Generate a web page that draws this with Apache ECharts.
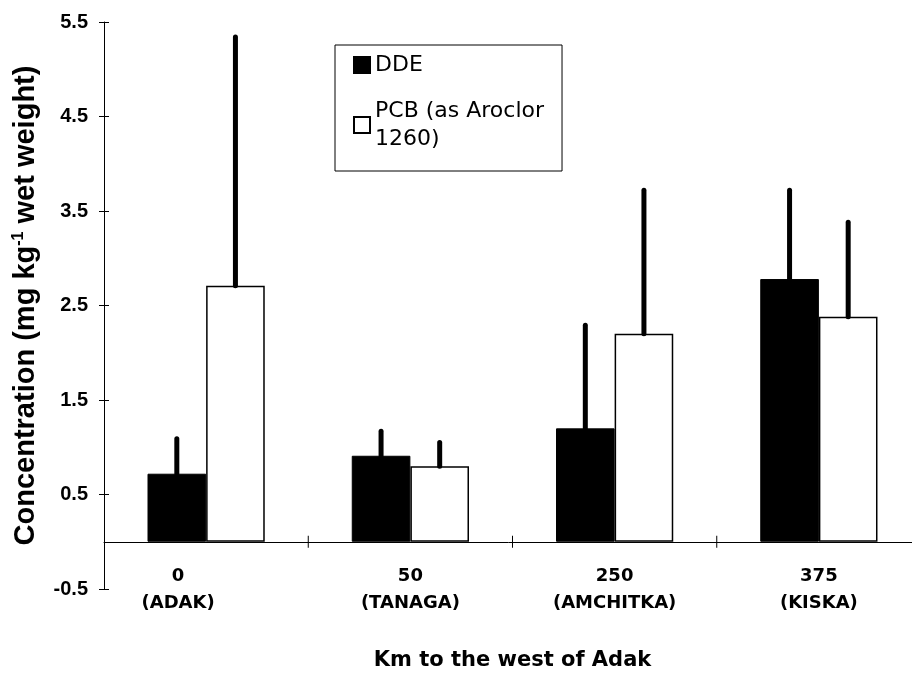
<!DOCTYPE html>
<html>
<head>
<meta charset="utf-8">
<script src="https://cdn.jsdelivr.net/npm/echarts@6/dist/echarts.min.js"></script>
<style>
  html, body { margin: 0; padding: 0; background: #fff; }
  #chart { width: 912px; height: 677px; }
</style>
</head>
<body>
<div id="chart"></div>
<script>
// sites, km west of Adak
var sites = ['0\n(ADAK)', '50\n(TANAGA)', '250\n(AMCHITKA)', '375\n(KISKA)'];
// mean concentrations (mg/kg wet weight)
var ddeMean = [0.72, 0.91, 1.20, 2.78];
var pcbMean = [2.71, 0.80, 2.20, 2.38];
// top of the error bars
var ddeUpper = [1.09, 1.17, 2.29, 3.72];
var pcbUpper = [5.34, 1.05, 3.72, 3.38];

var barPct = 0.287;
var chart = echarts.init(document.getElementById('chart'));

// category entries, first label sits a bit left in the original figure
var catData = sites.map(function (s, i) {
    return i === 0 ? { value: s, textStyle: { padding: [0, 56, 0, 0] } } : s;
});

function errData(mean, upper) {
    return mean.map(function (m, i) { return [i, m, upper[i]]; });
}

function errRenderer(shift) {
    return function (params, api) {
        var idx = api.value(0);
        var p0 = api.coord([idx, api.value(1)]);
        var p1 = api.coord([idx, api.value(2)]);
        var band = api.size([1, 0])[0];
        var dx = band * barPct * shift;
        return {
            type: 'line',
            shape: { x1: p0[0] + dx, y1: p0[1], x2: p1[0] + dx, y2: p1[1] },
            style: { stroke: '#000', lineWidth: 5, lineCap: 'round' }
        };
    };
}

// small cross ticks on the zero line between the sites
function zeroTick(params, api) {
    var p = api.coord([api.value(0), 0]);
    var band = api.size([1, 0])[0];
    var x = p[0] - band / 2;
    return {
        type: 'line',
        shape: { x1: x, y1: p[1] - 6, x2: x, y2: p[1] + 6 },
        style: { stroke: '#000', lineWidth: 1 }
    };
}

var option = {
    animation: false,
    backgroundColor: '#fff',
    grid: { left: 104, top: 22, right: -9, bottom: 88, containLabel: false, outerBoundsMode: 'none' },
    legend: {
        orient: 'vertical',
        left: 335,
        top: 45,
        padding: [6, 18, 4, 18],
        itemGap: 4,
        itemWidth: 16,
        itemHeight: 16,
        icon: 'rect',
        borderColor: '#000',
        borderWidth: 1,
        borderRadius: 0,
        selectedMode: false,
        textStyle: { fontFamily: 'DejaVu Sans', fontSize: 22, color: '#000', lineHeight: 28 },
        data: [
            { name: 'DDE' },
            { name: 'PCB (as Aroclor\n1260)', textStyle: { padding: [28, 0, 0, 0] } }
        ]
    },
    xAxis: {
        type: 'category',
        data: catData,
        axisLine: { onZero: true, lineStyle: { color: '#000', width: 1 } },
        axisTick: { show: false },
        axisLabel: {
            margin: -26,
            fontFamily: 'DejaVu Sans',
            fontWeight: 'bold',
            fontSize: 18,
            lineHeight: 27,
            color: '#000'
        },
        name: 'Km to the west of Adak',
        nameLocation: 'middle',
        nameGap: 61,
        nameTextStyle: { fontFamily: 'DejaVu Sans', fontWeight: 'bold', fontSize: 21, color: '#000' }
    },
    yAxis: [{
        type: 'value',
        min: -0.5,
        max: 5.5,
        interval: 1,
        axisLine: { show: true, lineStyle: { color: '#000', width: 1 } },
        axisTick: { show: true, inside: false, length: 5, lineStyle: { color: '#000' } },
        splitLine: { show: false },
        axisLabel: {
            margin: 16,
            fontFamily: 'Liberation Sans',
            fontWeight: 'bold',
            fontSize: 20,
            color: '#000',
            formatter: function (v) { return v.toFixed(1); }
        },
        name: 'Concentration (mg kg{sup|-1} wet weight)',
        nameLocation: 'middle',
        nameGap: 63,
        nameTextStyle: {
            fontFamily: 'Liberation Sans',
            fontWeight: 'bold',
            fontSize: 29,
            color: '#000',
            rich: {
                sup: { fontFamily: 'Liberation Sans', fontWeight: 'bold', fontSize: 16, color: '#000', padding: [0, 0, 14, 0] }
            }
        }
    }, {
        type: 'value',
        min: -0.5,
        max: 5.5,
        interval: 1,
        position: 'left',
        axisLine: { show: false },
        axisTick: { show: true, inside: true, length: 5, lineStyle: { color: '#000' } },
        splitLine: { show: false },
        axisLabel: { show: false }
    }],
    series: [{
        name: 'DDE',
        type: 'bar',
        data: ddeMean,
        barWidth: (barPct * 100) + '%',
        barGap: '0%',
        itemStyle: { color: '#000', borderColor: '#000', borderWidth: 1 }
    }, {
        name: 'PCB (as Aroclor\n1260)',
        type: 'bar',
        data: pcbMean,
        barWidth: (barPct * 100) + '%',
        barGap: '0%',
        itemStyle: { color: '#fff', borderColor: '#000', borderWidth: 1.5 }
    }, {
        name: 'DDE error',
        type: 'custom',
        renderItem: errRenderer(-0.5),
        data: errData(ddeMean, ddeUpper),
        encode: { x: 0, y: [1, 2] },
        z: 5
    }, {
        name: 'PCB error',
        type: 'custom',
        renderItem: errRenderer(0.5),
        data: errData(pcbMean, pcbUpper),
        encode: { x: 0, y: [1, 2] },
        z: 5
    }, {
        name: 'zero ticks',
        type: 'custom',
        renderItem: zeroTick,
        data: [[1], [2], [3]],
        encode: { x: 0 },
        silent: true,
        z: 4
    }]
};

chart.setOption(option);
</script>
</body>
</html>
